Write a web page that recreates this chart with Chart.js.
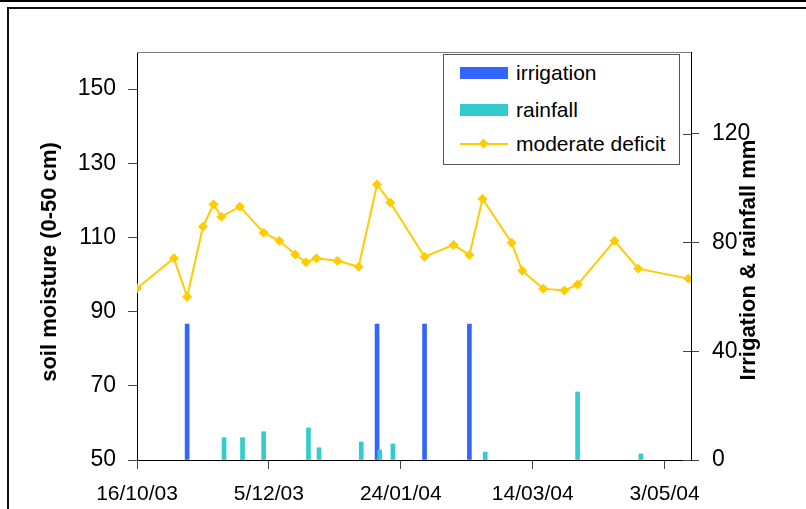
<!DOCTYPE html>
<html>
<head>
<meta charset="utf-8">
<script src="https://cdn.jsdelivr.net/npm/chart.js@4.4.0/dist/chart.umd.min.js"></script>
<style>
html,body{margin:0;padding:0;background:#fff;}
#wrap{position:relative;width:806px;height:509px;overflow:hidden;background:#fff;}
#topline{position:absolute;left:0;top:0;width:806px;height:2px;background:#000;}
#frame{position:absolute;left:7px;top:7px;width:900px;height:600px;border-left:2px solid #111;border-top:2px solid #111;}
#c{position:absolute;left:0;top:0;}
#legend{position:absolute;left:443px;top:54px;width:237px;height:111px;border:1px solid #555;background:#fff;box-sizing:border-box;font-family:"Liberation Sans",Arial,sans-serif;font-size:21px;color:#000;}
.row{position:absolute;left:0;height:24px;width:100%;}
.sw{position:absolute;left:16px;top:6px;width:48px;height:12px;}
.ln{position:absolute;left:16px;top:11px;width:48px;height:2px;}
.dm{position:absolute;left:36px;top:8px;width:7px;height:7px;transform:rotate(45deg);}
.tx{position:absolute;left:72px;top:0;line-height:24px;white-space:nowrap;}
</style>
</head>
<body>
<div id="wrap">
  <div id="topline"></div>
  <div id="frame"></div>
  <canvas id="c" width="806" height="509"></canvas>
  <div id="legend"></div>
</div>
<script>
// ---- data ----
const startDate = '2003-10-16';
const xTickLabels = ['16/10/03', '5/12/03', '24/01/04', '14/03/04', '3/05/04'];
const xTickDates = ['2003-10-16', '2003-12-05', '2004-01-24', '2004-03-14', '2004-05-03'];
const xEndDate = '2004-05-13';

const moistureDates = ['2003-10-16','2003-10-30','2003-11-04','2003-11-10','2003-11-14','2003-11-17','2003-11-24',
  '2003-12-03','2003-12-09','2003-12-15','2003-12-19','2003-12-23','2003-12-31','2004-01-08','2004-01-15',
  '2004-01-20','2004-02-02','2004-02-13','2004-02-19','2004-02-24','2004-03-06','2004-03-10','2004-03-18',
  '2004-03-26','2004-03-31','2004-04-14','2004-04-23','2004-05-12'];
const moistureValues = [96.3,104.4,94.0,112.9,118.9,115.6,118.3,111.3,109.1,105.4,103.3,104.4,103.7,102.1,124.3,
  119.4,104.8,108.0,105.3,120.4,108.6,101.0,96.2,95.7,97.3,109.1,101.6,98.9];

const irrigationDates = ['2003-11-04','2004-01-15','2004-02-02','2004-02-19'];
const irrigationValues = [50, 50, 50, 50];

const rainfallDates = ['2003-11-18','2003-11-25','2003-12-03','2003-12-20','2003-12-24','2004-01-09','2004-01-16',
  '2004-01-21','2004-02-25','2004-03-31','2004-04-24'];
const rainfallValues = [8.2, 8.2, 10.4, 11.8, 4.5, 6.6, 3.7, 5.9, 2.9, 25, 2.2];

const leftTicks = [50, 70, 90, 110, 130, 150];
const rightTicks = [0, 40, 80, 120];
const leftTitle = 'soil moisture (0-50 cm)';
const rightTitle = 'Irrigation & rainfall mm';
const seriesNames = ['irrigation', 'rainfall', 'moderate deficit'];

// ---- helpers ----
const DAY = 86400000;
function dayNum(s) { return Math.round((Date.parse(s + 'T00:00:00Z') - Date.parse(startDate + 'T00:00:00Z')) / DAY); }
function pts(dates, vals) { return dates.map((d, i) => ({ x: dayNum(d), y: vals[i] })); }
const xTickDays = xTickDates.map(dayNum);

const FONT = '"Liberation Sans", Arial, sans-serif';

const decor = {
  id: 'decor',
  afterDraw(chart) {
    const c = chart.ctx, a = chart.chartArea;
    c.save();
    // plot area top border
    c.strokeStyle = '#808080'; c.lineWidth = 1;
    c.beginPath(); c.moveTo(a.left, a.top + 0.5); c.lineTo(a.right, a.top + 0.5); c.stroke();
    // inward ticks on right axis
    const y2 = chart.scales.y2;
    c.strokeStyle = '#444';
    rightTicks.forEach(v => {
      const py = Math.round(y2.getPixelForValue(v)) + 0.5;
      c.beginPath(); c.moveTo(a.right - 8, py); c.lineTo(a.right, py); c.stroke();
    });
    // axis titles
    c.fillStyle = '#000';
    c.font = 'bold 22px ' + FONT;
    c.textAlign = 'center'; c.textBaseline = 'alphabetic';
    c.save(); c.translate(56, 262); c.rotate(-Math.PI / 2); c.fillText(leftTitle, 0, 0); c.restore();
    c.save(); c.translate(755, 260); c.rotate(-Math.PI / 2); c.fillText(rightTitle, 0, 0); c.restore();
    c.restore();
  }
};

const chart = new Chart(document.getElementById('c'), {
  data: {
    datasets: [
      { type: 'bar', label: seriesNames[0], data: pts(irrigationDates, irrigationValues), yAxisID: 'y2',
        backgroundColor: '#3366FF', barThickness: 4, grouped: false, order: 2 },
      { type: 'bar', label: seriesNames[1], data: pts(rainfallDates, rainfallValues), yAxisID: 'y2',
        backgroundColor: '#33CCCC', barThickness: 4, grouped: false, order: 1 },
      { type: 'line', label: seriesNames[2], data: pts(moistureDates, moistureValues), yAxisID: 'y',
        borderColor: '#FFCC00', backgroundColor: '#FFCC00', borderWidth: 2, tension: 0,
        pointStyle: 'rectRot', pointRadius: 4.5, pointBorderWidth: 1, pointBorderColor: '#FFCC00', order: 0 }
    ]
  },
  options: {
    responsive: false, animation: false,
    layout: { padding: { top: 52, left: 0, right: 0, bottom: 0 } },
    plugins: { legend: { display: false }, tooltip: { enabled: false } },
    scales: {
      x: {
        type: 'linear', position: 'bottom', min: 0, max: dayNum(xEndDate), offset: false,
        grid: { display: true, offset: false, drawOnChartArea: false, drawTicks: true, tickLength: 9, color: '#444' },
        border: { display: true, color: '#000', width: 1 },
        afterBuildTicks: s => { s.ticks = xTickDays.map(v => ({ value: v })); },
        afterFit: s => { s.height = 49; },
        ticks: { autoSkip: false, maxRotation: 0, padding: 13, color: '#000',
          font: { family: FONT, size: 21 },
          callback: (v, i) => xTickLabels[i] }
      },
      y: {
        type: 'linear', position: 'left', min: 50, max: 160,
        grid: { display: true, offset: false, drawOnChartArea: false, drawTicks: true, tickLength: 9, color: '#444' },
        border: { display: true, color: '#000', width: 1 },
        afterBuildTicks: s => { s.ticks = leftTicks.map(v => ({ value: v })); },
        afterFit: s => { s.width = 137; },
        ticks: { padding: 12, color: '#000', font: { family: FONT, size: 23 } }
      },
      y2: {
        type: 'linear', position: 'right', min: 0, max: 150,
        grid: { display: true, offset: false, drawOnChartArea: false, drawTicks: true, tickLength: 8, color: '#444' },
        border: { display: true, color: '#000', width: 1 },
        afterBuildTicks: s => { s.ticks = rightTicks.map(v => ({ value: v })); },
        afterFit: s => { s.width = 115; },
        ticks: { padding: 13, color: '#000', font: { family: FONT, size: 23 } }
      }
    }
  },
  plugins: [decor]
});

// ---- HTML legend built from datasets ----
const legend = document.getElementById('legend');
const rowTops = [6, 42.5, 76.5];
chart.data.datasets.forEach((ds, i) => {
  const row = document.createElement('div');
  row.className = 'row';
  row.style.top = rowTops[i] + 'px';
  if (ds.type === 'bar') {
    const sw = document.createElement('div'); sw.className = 'sw'; sw.style.background = ds.backgroundColor; row.appendChild(sw);
  } else {
    const ln = document.createElement('div'); ln.className = 'ln'; ln.style.background = ds.borderColor; row.appendChild(ln);
    const dm = document.createElement('div'); dm.className = 'dm'; dm.style.background = ds.borderColor; row.appendChild(dm);
  }
  const tx = document.createElement('div'); tx.className = 'tx'; tx.textContent = ds.label; row.appendChild(tx);
  legend.appendChild(row);
});
</script>
</body>
</html>
